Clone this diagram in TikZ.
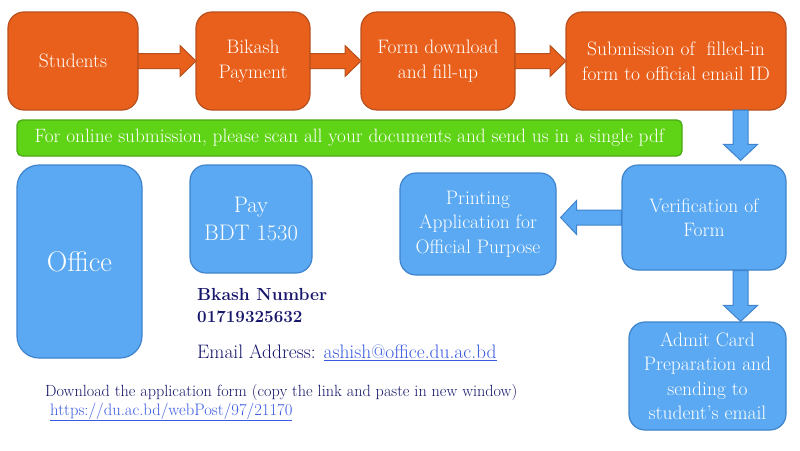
\documentclass[tikz,border=0pt]{standalone}
\usetikzlibrary{positioning, calc}

\definecolor{stepor}{HTML}{E8601C}
\definecolor{stepordk}{HTML}{B9501C}
\definecolor{stepbl}{HTML}{5AA9F2}
\definecolor{stepbldk}{HTML}{3F84CC}
\definecolor{notegr}{HTML}{5FD315}
\definecolor{notegrdk}{HTML}{48A912}
\definecolor{navy}{HTML}{16166A}
\definecolor{linkbl}{HTML}{3A5BE0}

% block arrow: style, start, tip, half width of head
\newcommand{\blockarrow}[4]{%
  \draw[#1] ($(#2)!7.5pt!90:(#3)$)
    -- ($(#3)!16pt!(#2)!7.5pt!90:(#3)$)
    -- ($(#3)!16pt!(#2)!#4!90:(#3)$)
    -- (#3)
    -- ($(#3)!16pt!(#2)!#4!-90:(#3)$)
    -- ($(#3)!16pt!(#2)!7.5pt!-90:(#3)$)
    -- ($(#2)!7.5pt!-90:(#3)$) -- cycle;
}

\begin{document}
\begin{tikzpicture}[
    x=1pt, y=-1pt,
    obox/.style={draw=stepordk, fill=stepor, line width=1.2pt, rounded corners=16pt,
      text=white, align=center, minimum height=98pt, inner sep=0pt, outer sep=0pt,
      font=\fontsize{19.5}{25}\selectfont},
    bbox/.style={draw=stepbldk, fill=stepbl, line width=1.2pt, rounded corners=16pt,
      text=white, align=center, inner sep=0pt, font=\fontsize{19.5}{24.5}\selectfont},
    oarrow/.style={draw=stepordk, fill=stepor, line width=1pt},
    barrow/.style={draw=stepbldk, fill=stepbl, line width=1pt},
    info/.style={anchor=west, inner sep=0pt, text=navy}
]
\useasboundingbox (0,0) rectangle (800,450);

% Top row
\node [obox, minimum width=130pt] (stu) at (73,61) {Students};
\node [obox, minimum width=114pt, right=58pt of stu] (bik) {Bikash\\Payment};
\node [obox, minimum width=154pt, right=51pt of bik] (frm) {Form download\\and fill-up};
\node [obox, minimum width=220pt, right=51pt of frm] (sub) {Submission of~ filled-in\\form to official email ID};

% Note bar
\node [draw=notegrdk, fill=notegr, line width=1.2pt, rounded corners=5pt, text=white,
  minimum width=665pt, minimum height=36pt, font=\fontsize{19.3}{22}\selectfont] (note)
  at (349.5,138) {For online submission, please scan all your documents and send us in a single pdf};

% Lower boxes
\node [bbox, minimum width=125pt, minimum height=193pt, rounded corners=22pt,
  font=\fontsize{28.5}{32}\selectfont] (off) at (79.5,261.5) {Office};
\node [bbox, minimum width=122pt, minimum height=108pt, font=\fontsize{22.5}{28}\selectfont]
  (pay) at (251,219) {Pay\\BDT 1530};
\node [bbox, minimum width=156pt, minimum height=102pt] (prt) at (478,224)
  {Printing\\Application for\\Official Purpose};
\node [bbox, minimum width=164pt, minimum height=105pt] (ver) at (704,217.5)
  {Verification of\\Form};
\node [bbox, minimum width=157pt, minimum height=108pt] (adm) at (707.5,376)
  {Admit Card\\Preparation and\\sending to\\student's email};

% Payment details
\node [info, font=\bfseries\fontsize{17.5}{22}\selectfont] (bnum) at (197,294) {Bkash Number};
\node [info, font=\bfseries\fontsize{17}{22}\selectfont] (bdig) at (197,317) {01719325632};
\node [info, font=\fontsize{19.5}{22}\selectfont] (mail) at (197,353)
  {Email Address: \textcolor{linkbl}{\underline{ashish@office.du.ac.bd}}};
\node [info, font=\fontsize{16.2}{19}\selectfont] (dl) at (45,392)
  {Download the application form (copy the link and paste in new window)};
\node [info, font=\fontsize{16.6}{19}\selectfont, text=linkbl] (url) at (50,412)
  {\underline{https://du.ac.bd/webPost/97/21170}};

% Arrows
\coordinate (t1) at (stu.east -| bik.west);
\coordinate (t2) at (bik.east -| frm.west);
\coordinate (t3) at (frm.east -| sub.west);
\coordinate (t4) at ($(ver.north east)+(-46,-4)$);
\coordinate (s4) at (t4 |- sub.south);
\coordinate (t5) at ($(ver.west -| prt.east)+(4,0)$);
\coordinate (s6) at ($(ver.south east)+(-46,0)$);
\coordinate (t6) at (s6 |- adm.north);

\blockarrow{oarrow}{stu.east}{t1}{15.5pt}
\blockarrow{oarrow}{bik.east}{t2}{15.5pt}
\blockarrow{oarrow}{frm.east}{t3}{15.5pt}
\blockarrow{barrow}{s4}{t4}{17pt}
\blockarrow{barrow}{ver.west}{t5}{17pt}
\blockarrow{barrow}{s6}{t6}{17pt}

\end{tikzpicture}
\end{document}
